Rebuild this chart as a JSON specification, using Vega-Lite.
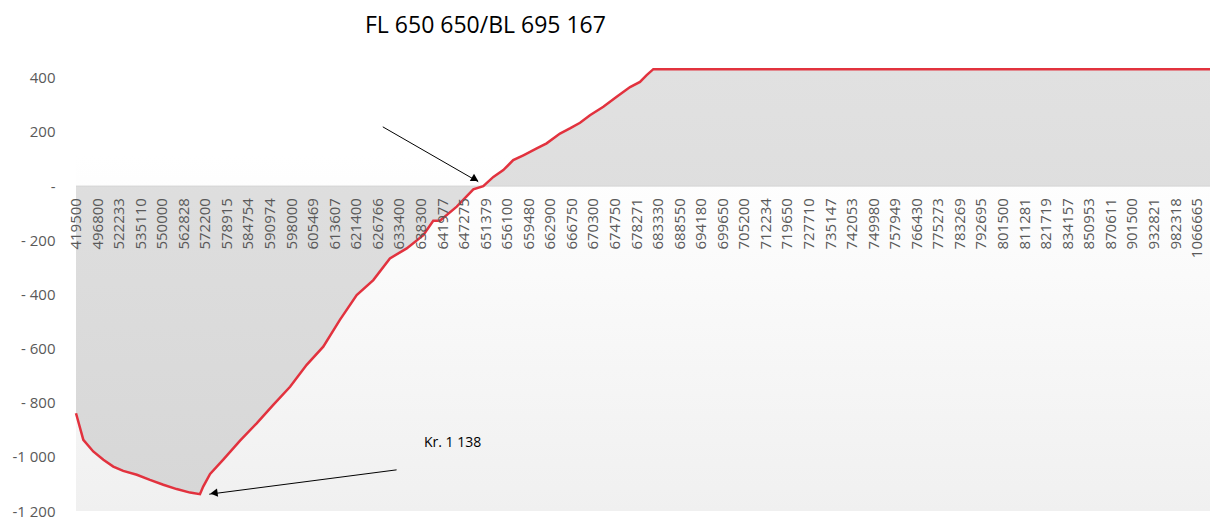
{
  "$schema": "https://vega.github.io/schema/vega-lite/v6.json",
  "width": 1134,
  "height": 444,
  "autosize": "none",
  "padding": {"left": 76, "top": 67, "right": 0, "bottom": 8},
  "background": "white",
  "config": {"view": {"stroke": null}, "font": "Open Sans"},
  "title": {"text": "FL 650 650/BL 695 167", "anchor": "start", "frame": "group", "dx": 289, "offset": 8, "fontSize": 23, "font": "Open Sans", "fontWeight": "normal", "color": "#000000", "baseline": "alphabetic"},
  "datasets": {
    "profile": [
      {"pos": 0, "value": -839}, {"pos": 0.34, "value": -937}, {"pos": 0.8, "value": -980},
      {"pos": 1.27, "value": -1011}, {"pos": 1.73, "value": -1036}, {"pos": 2.19, "value": -1052},
      {"pos": 2.82, "value": -1066}, {"pos": 3.43, "value": -1085}, {"pos": 4.05, "value": -1103},
      {"pos": 4.67, "value": -1119}, {"pos": 5.29, "value": -1132}, {"pos": 5.75, "value": -1138},
      {"pos": 5.9, "value": -1110}, {"pos": 6.22, "value": -1063}, {"pos": 6.83, "value": -1010},
      {"pos": 7.61, "value": -940}, {"pos": 8.38, "value": -876}, {"pos": 9.15, "value": -808},
      {"pos": 9.93, "value": -741}, {"pos": 10.7, "value": -660}, {"pos": 11.47, "value": -593},
      {"pos": 12.24, "value": -494}, {"pos": 13.02, "value": -402}, {"pos": 13.79, "value": -347},
      {"pos": 14.56, "value": -267}, {"pos": 15.34, "value": -230}, {"pos": 16.11, "value": -181},
      {"pos": 16.57, "value": -128}, {"pos": 16.88, "value": -128}, {"pos": 17.66, "value": -76},
      {"pos": 18.43, "value": -12}, {"pos": 18.89, "value": 0}, {"pos": 19.36, "value": 34},
      {"pos": 19.82, "value": 59}, {"pos": 20.28, "value": 96}, {"pos": 20.75, "value": 114},
      {"pos": 21.37, "value": 139}, {"pos": 21.83, "value": 158}, {"pos": 22.45, "value": 194},
      {"pos": 22.91, "value": 213}, {"pos": 23.38, "value": 234}, {"pos": 23.84, "value": 262},
      {"pos": 24.46, "value": 293}, {"pos": 25.08, "value": 330}, {"pos": 25.7, "value": 366},
      {"pos": 26.16, "value": 385}, {"pos": 26.47, "value": 410}, {"pos": 26.78, "value": 432},
      {"pos": 52.6, "value": 432}
    ],
    "xlabels": [
      {"pos": 0, "label": "419500"}, {"pos": 1, "label": "496800"}, {"pos": 2, "label": "522233"},
      {"pos": 3, "label": "535110"}, {"pos": 4, "label": "550000"}, {"pos": 5, "label": "562828"},
      {"pos": 6, "label": "572200"}, {"pos": 7, "label": "578915"}, {"pos": 8, "label": "584754"},
      {"pos": 9, "label": "590974"}, {"pos": 10, "label": "598000"}, {"pos": 11, "label": "605469"},
      {"pos": 12, "label": "613607"}, {"pos": 13, "label": "621400"}, {"pos": 14, "label": "626766"},
      {"pos": 15, "label": "633400"}, {"pos": 16, "label": "638300"}, {"pos": 17, "label": "641977"},
      {"pos": 18, "label": "647275"}, {"pos": 19, "label": "651379"}, {"pos": 20, "label": "656100"},
      {"pos": 21, "label": "659480"}, {"pos": 22, "label": "662900"}, {"pos": 23, "label": "666750"},
      {"pos": 24, "label": "670300"}, {"pos": 25, "label": "674750"}, {"pos": 26, "label": "678271"},
      {"pos": 27, "label": "683330"}, {"pos": 28, "label": "688550"}, {"pos": 29, "label": "694180"},
      {"pos": 30, "label": "699650"}, {"pos": 31, "label": "705200"}, {"pos": 32, "label": "712234"},
      {"pos": 33, "label": "719650"}, {"pos": 34, "label": "727710"}, {"pos": 35, "label": "735147"},
      {"pos": 36, "label": "742053"}, {"pos": 37, "label": "749980"}, {"pos": 38, "label": "757949"},
      {"pos": 39, "label": "766430"}, {"pos": 40, "label": "775273"}, {"pos": 41, "label": "783269"},
      {"pos": 42, "label": "792695"}, {"pos": 43, "label": "801500"}, {"pos": 44, "label": "811281"},
      {"pos": 45, "label": "821719"}, {"pos": 46, "label": "834157"}, {"pos": 47, "label": "850953"},
      {"pos": 48, "label": "870611"}, {"pos": 49, "label": "901500"}, {"pos": 50, "label": "932821"},
      {"pos": 51, "label": "982318"}, {"pos": 52, "label": "1066665"}
    ],
    "arrows": [
      {"id": "zero", "pos": 14.23, "value": 219, "pos2": 18.66, "value2": 16},
      {"id": "min", "pos": 14.87, "value": -1048, "pos2": 6.18, "value2": -1138}
    ],
    "heads": [
      {"id": "zero", "pos": 18.51, "value": 26},
      {"id": "min", "pos": 6.4, "value": -1134}
    ],
    "notes": [
      {"pos": 16.14, "value": -950, "text": "Kr. 1 138"}
    ]
  },
  "layer": [
    {
      "data": {"values": [{}]},
      "mark": {"type": "rect", "color": {"gradient": "linear", "x1": 0, "y1": 0, "x2": 0, "y2": 1, "stops": [{"offset": 0, "color": "#ffffff"}, {"offset": 0.2, "color": "#ffffff"}, {"offset": 1, "color": "#f0f0f0"}]}},
      "encoding": {"y": {"datum": 440}, "y2": {"datum": -1200}}
    },
    {
      "data": {"name": "profile"},
      "mark": {"type": "area", "color": {"gradient": "linear", "x1": 0, "y1": 0, "x2": 0, "y2": 1, "stops": [{"offset": 0, "color": "#e1e1e1"}, {"offset": 1, "color": "#d7d7d7"}]}},
      "encoding": {
        "x": {"field": "pos", "type": "quantitative", "scale": {"domain": [0, 52.6], "nice": false, "zero": false}, "axis": null},
        "y": {"field": "value", "type": "quantitative", "scale": {"domain": [-1200, 440], "nice": false, "zero": false},
              "axis": {"title": null, "values": [-1200, -1000, -800, -600, -400, -200, 0, 200, 400], "ticks": false, "domain": false, "grid": false,
                       "labelPadding": 21, "labelFontSize": 15, "labelColor": "#595959", "labelFont": "Open Sans", "labelOverlap": false, "labelBound": false,
                       "labelExpr": "datum.value == 0 ? '- ' : (datum.value < 0 ? (datum.value <= -1000 ? '-' + replace(format(-datum.value, ','), ',', ' ') : '- ' + format(-datum.value, 'd')) : format(datum.value, 'd'))"}},
        "y2": {"datum": 0}
      }
    },
    {
      "data": {"values": [{}]},
      "mark": {"type": "rule", "color": "#d4d4d4", "strokeWidth": 1},
      "encoding": {"y": {"datum": 0}}
    },
    {
      "data": {"name": "profile"},
      "mark": {"type": "line", "color": "#e2323e", "strokeWidth": 2.5},
      "encoding": {
        "x": {"field": "pos", "type": "quantitative", "axis": null},
        "y": {"field": "value", "type": "quantitative"}
      }
    },
    {
      "data": {"name": "xlabels"},
      "mark": {"type": "text", "angle": 270, "align": "right", "baseline": "middle", "dx": -12, "fontSize": 15, "color": "#595959", "font": "Open Sans"},
      "encoding": {
        "x": {"field": "pos", "type": "quantitative", "axis": null},
        "y": {"datum": 0},
        "text": {"field": "label"}
      }
    },
    {
      "data": {"name": "arrows"},
      "mark": {"type": "rule", "color": "#000000", "strokeWidth": 1},
      "encoding": {
        "x": {"field": "pos", "type": "quantitative", "axis": null},
        "y": {"field": "value", "type": "quantitative"},
        "x2": {"field": "pos2"},
        "y2": {"field": "value2"}
      }
    },
    {
      "data": {"name": "heads"},
      "transform": [{"filter": "datum.id == 'zero'"}],
      "mark": {"type": "point", "shape": "triangle-right", "filled": true, "color": "#000000", "opacity": 1, "size": 70, "angle": 30},
      "encoding": {
        "x": {"field": "pos", "type": "quantitative", "axis": null},
        "y": {"field": "value", "type": "quantitative"}
      }
    },
    {
      "data": {"name": "heads"},
      "transform": [{"filter": "datum.id == 'min'"}],
      "mark": {"type": "point", "shape": "triangle-left", "filled": true, "color": "#000000", "opacity": 1, "size": 70, "angle": -7.5},
      "encoding": {
        "x": {"field": "pos", "type": "quantitative", "axis": null},
        "y": {"field": "value", "type": "quantitative"}
      }
    },
    {
      "data": {"name": "notes"},
      "mark": {"type": "text", "align": "left", "baseline": "middle", "fontSize": 14, "color": "#000000", "font": "Open Sans"},
      "encoding": {
        "x": {"field": "pos", "type": "quantitative", "axis": null},
        "y": {"field": "value", "type": "quantitative"},
        "text": {"field": "text"}
      }
    }
  ]
}
